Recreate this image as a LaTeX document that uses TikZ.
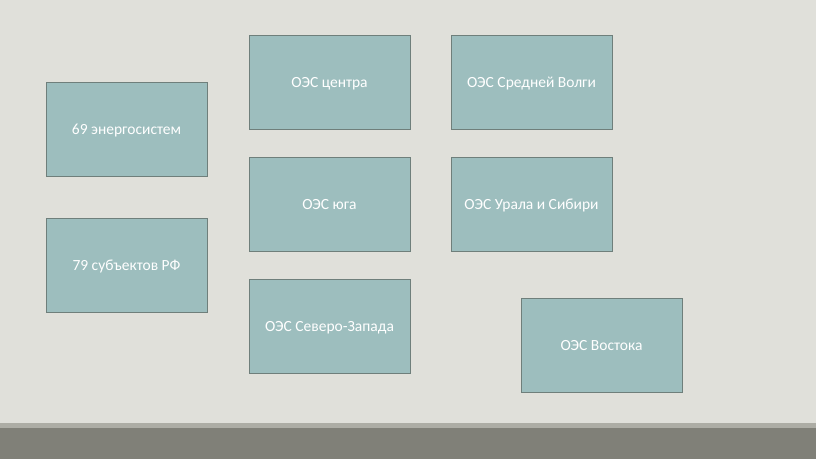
\documentclass[tikz,border=0pt]{standalone}
\usepackage{fontspec}
\setmainfont{Carlito}
\definecolor{bgray}{HTML}{E0E0DA}
\definecolor{band}{HTML}{808078}
\definecolor{bandline}{HTML}{ADADA5}
\definecolor{boxfill}{HTML}{9DBEBE}
\definecolor{boxline}{HTML}{6F7F7B}
\tikzset{oes/.style={draw=boxline, line width=1pt, fill=boxfill, minimum width=161pt, minimum height=94pt, inner sep=0pt, text height=10pt, text depth=0pt, text=white, font=\fontsize{15.5}{18}\selectfont}}
\begin{document}
\begin{tikzpicture}[x=1pt, y=-1pt]
            \fill[bgray] (0,0) rectangle (816,459);
            \useasboundingbox (0,0) rectangle (816,459);
            \fill[bandline] (0,423) rectangle (816,428);
            \fill[band] (0,428) rectangle (816,459);
            \foreach \n/\x/\y/\t in {energo/126.5/129/69 энергосистем,
                subj/126.5/265/79 субъектов РФ,
                centr/329.5/82/ОЭС центра,
                yug/329.5/204/ОЭС юга,
                sz/329.5/326/ОЭС Северо-Запада,
                volga/531.5/82/ОЭС Средней Волги,
                ural/531.5/204/ОЭС Урала и Сибири,
                vost/601.5/345/ОЭС Востока}
            \node[oes] (\n) at (\x,\y) {\t};
    \end{tikzpicture}
\end{document}
